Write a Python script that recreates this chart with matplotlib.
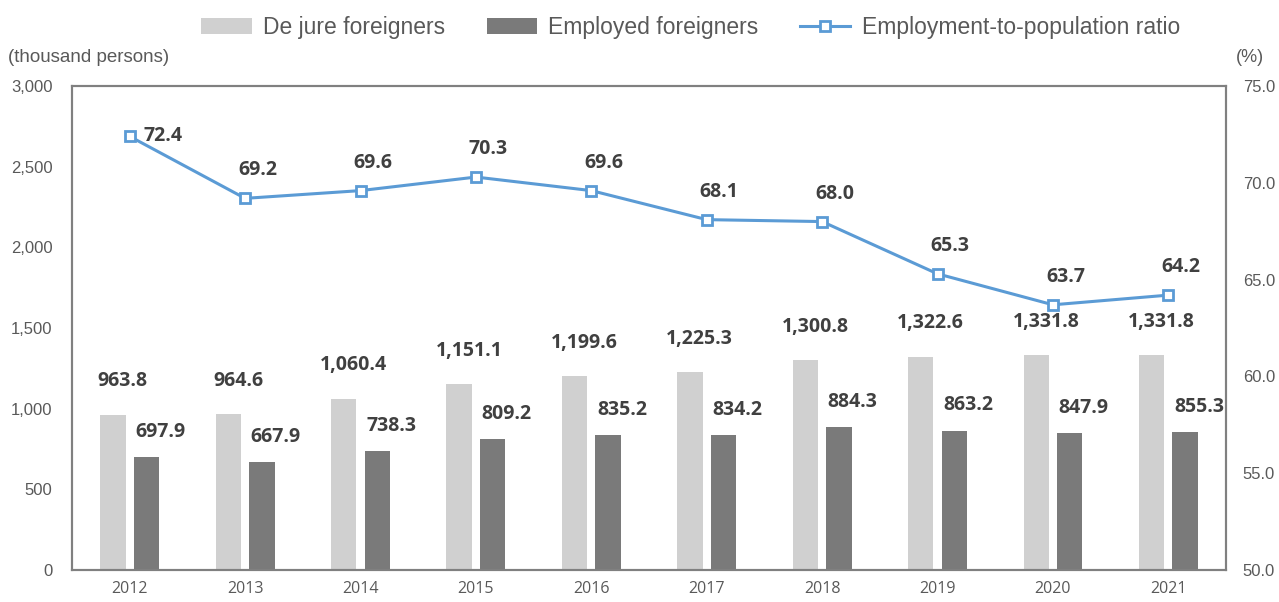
import matplotlib.pyplot as plt
import numpy as np

# data
years = ["2012", "2013", "2014", "2015", "2016", "2017", "2018", "2019", "2020", "2021"]
de_jure = [963.8, 964.6, 1060.4, 1151.1, 1199.6, 1225.3, 1300.8, 1322.6, 1331.8, 1331.8]
employed = [697.9, 667.9, 738.3, 809.2, 835.2, 834.2, 884.3, 863.2, 847.9, 855.3]
ratio = [72.4, 69.2, 69.6, 70.3, 69.6, 68.1, 68.0, 65.3, 63.7, 64.2]

plt.rcParams['font.family'] = ['Liberation Sans', 'DejaVu Sans']
tick_col = '#595959'
lab_col = '#404040'
bold_font = ['Open Sans', 'DejaVu Sans']

fig = plt.figure(figsize=(12.79, 6.02), dpi=100)
ax = fig.add_axes([0.0563, 0.0532, 0.9023, 0.8038])
ax2 = ax.twinx()

x = np.arange(len(years))
w = 0.22
off = 0.145
b1 = ax.bar(x - off, de_jure, w, color='#d0d0d0', label='De jure foreigners', zorder=2)
b2 = ax.bar(x + off, employed, w, color='#7a7a7a', label='Employed foreigners', zorder=2)

for xi, v in zip(x, de_jure):
    ax.annotate(f"{v:,.1f}", (xi - off, v), xytext=(7, 17), textcoords='offset points',
                ha='center', va='bottom', fontsize=14, fontweight='bold', color=lab_col,
                family=bold_font)
for xi, v in zip(x, employed):
    ax.annotate(f"{v:,.1f}", (xi + off, v), xytext=(10, 11), textcoords='offset points',
                ha='center', va='bottom', fontsize=14, fontweight='bold', color=lab_col,
                family=bold_font)

ln, = ax2.plot(x, ratio, color='#5b9bd5', lw=2.2, marker='s', ms=7, mfc='white',
               mec='#5b9bd5', mew=2, label='Employment-to-population ratio', zorder=3)
for i, (xi, v) in enumerate(zip(x, ratio)):
    if i == 0:
        xy_off, ha, va = (10, 0), 'left', 'center'
    else:
        xy_off, ha, va = (9, 13), 'center', 'bottom'
    ax2.annotate(f"{v:.1f}", (xi, v), xytext=xy_off, textcoords='offset points',
                 ha=ha, va=va, fontsize=14, fontweight='bold', color=lab_col,
                 family=bold_font)

ax.set_xlim(-0.5, len(years) - 0.5)
ax.set_ylim(0, 3000)
ax.set_yticks(np.arange(0, 3001, 500))
ax.set_yticklabels([f"{t:,}" for t in range(0, 3001, 500)])
ax2.set_ylim(50, 75)
ax2.set_yticks(np.arange(50, 75.1, 5))
ax2.set_yticklabels([f"{t:.1f}" for t in np.arange(50, 75.1, 5)])
ax.set_xticks(x)
ax.set_xticklabels(years)

for a in (ax, ax2):
    a.tick_params(length=0, labelsize=12, colors=tick_col)
    for s in a.spines.values():
        s.set_color('#808080')
        s.set_linewidth(1.5)
ax.tick_params(axis='x', pad=8, labelsize=11.5)
ax.tick_params(axis='y', pad=14)
ax2.tick_params(axis='y', pad=12)
for t in ax.get_xticklabels():
    t.set_family(bold_font)

fig.text(0.006, 0.905, "(thousand persons)", fontsize=13.5, color=tick_col, ha='left', va='center')
fig.text(0.977, 0.905, "(%)", fontsize=13, color=tick_col, ha='center', va='center')

handles = [b1, b2, ln]
fig.legend(handles, [h.get_label() for h in handles], loc='center', bbox_to_anchor=(0.54, 0.955),
           ncol=3, frameon=False, fontsize=16.5, labelcolor=tick_col, handlelength=2.2,
           columnspacing=1.8, handletextpad=0.5)

fig.savefig('out.png', dpi=100)
